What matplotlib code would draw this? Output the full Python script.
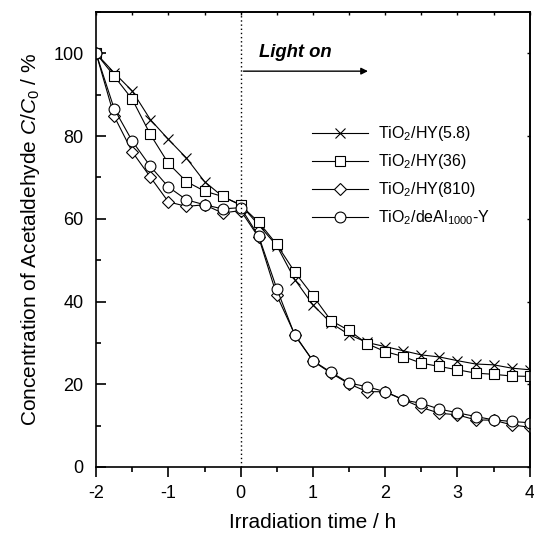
import matplotlib.pyplot as plt
from matplotlib.ticker import MultipleLocator

plt.rcParams['font.family'] = 'Liberation Sans'
plt.rcParams['mathtext.fontset'] = 'custom'
plt.rcParams['mathtext.rm'] = 'Liberation Sans'
plt.rcParams['mathtext.it'] = 'Liberation Sans:italic'
plt.rcParams['axes.unicode_minus'] = False

# time points (h), every 0.25 h from -2 to 4
time = [-2.0, -1.75, -1.5, -1.25, -1.0, -0.75, -0.5, -0.25, 0.0,
        0.25, 0.5, 0.75, 1.0, 1.25, 1.5, 1.75, 2.0, 2.25, 2.5, 2.75,
        3.0, 3.25, 3.5, 3.75, 4.0]

hy58 = [100, 95.3, 90.9, 84.0, 79.2, 74.7, 69.0, 65.4, 63.4,
        58.5, 53.5, 45.3, 39.2, 34.8, 32.0, 30.1, 29.1, 28.1, 27.1, 26.6,
        25.7, 24.9, 24.7, 23.9, 23.5]
hy36 = [100, 94.5, 88.9, 80.4, 73.4, 69.0, 66.7, 65.4, 63.3,
        59.2, 53.8, 47.1, 41.4, 35.4, 33.0, 29.8, 27.9, 26.7, 25.1, 24.3,
        23.5, 22.7, 22.4, 22.0, 21.9]
hy810 = [100, 84.8, 76.2, 70.1, 64.1, 63.0, 63.4, 61.4, 62.0,
         55.5, 41.5, 32.0, 25.6, 22.7, 20.1, 18.2, 18.2, 16.3, 14.4, 13.0,
         12.6, 11.4, 11.3, 10.2, 9.6]
deal = [100, 86.6, 78.8, 72.7, 67.7, 64.6, 63.4, 62.4, 62.7,
        55.8, 43.1, 31.8, 25.7, 22.9, 20.3, 19.4, 18.2, 16.2, 15.4, 14.0,
        13.1, 12.2, 11.4, 11.0, 10.7]

series = [
    (hy58, 'x', 7.5, r'TiO$_2$/HY(5.8)'),
    (hy36, 's', 6.8, r'TiO$_2$/HY(36)'),
    (hy810, 'D', 6.2, r'TiO$_2$/HY(810)'),
    (deal, 'o', 7.8, r'TiO$_2$/deAl$_{\it{1000}}$-Y'),
]

fig = plt.figure(figsize=(5.34, 5.34), dpi=100)
ax = fig.add_axes([0.18, 0.1255, 0.812, 0.852])

for y, m, ms, lab in series:
    ax.plot(time, y, color='black', lw=0.8, marker=m, markersize=ms,
            markerfacecolor='white', markeredgecolor='black',
            markeredgewidth=0.8, label=lab)

ax.axvline(0, color='black', lw=1, ls=(0, (1, 2)))
ax.annotate('', xy=(1.8, 95.7), xytext=(0, 95.7),
            arrowprops=dict(arrowstyle='-|>', color='black', lw=1,
                            mutation_scale=10))
ax.text(0.25, 100.2, 'Light on', fontsize=13.3, fontweight='bold',
        fontstyle='italic', va='center', ha='left')

ax.set_xlim(-2, 4)
ax.set_ylim(0, 110)
ax.xaxis.set_major_locator(MultipleLocator(1))
ax.xaxis.set_minor_locator(MultipleLocator(0.5))
ax.yaxis.set_minor_locator(MultipleLocator(10))
ax.set_yticks([0, 20, 40, 60, 80, 100])
for s in ax.spines.values():
    s.set_linewidth(1.2)
ax.tick_params(which='both', labelsize=13, width=1.2)
ax.tick_params(axis='x', which='both', direction='out', pad=6)
ax.tick_params(axis='y', which='both', direction='in', pad=9)
ax.tick_params(which='major', length=7)
ax.tick_params(which='minor', length=3.5)

# tiny ticks on top and right
top = ax.secondary_xaxis('top')
top.xaxis.set_major_locator(MultipleLocator(0.5))
top.tick_params(direction='in', length=2, width=1, labelbottom=False,
                labeltop=False)
right = ax.secondary_yaxis('right')
right.yaxis.set_major_locator(MultipleLocator(20))
right.tick_params(direction='in', length=2, width=1, labelright=False)
top.spines['top'].set_linewidth(1.2)
right.spines['right'].set_linewidth(1.2)

ax.set_xlabel('Irradiation time / h', fontsize=15, labelpad=8)
ax.set_ylabel(r'Concentration of Acetaldehyde $\it{C}/\it{C}_0$ / %',
              fontsize=15, labelpad=8)

ax.legend(loc='upper left', bbox_to_anchor=(0.465, 0.785), frameon=False,
          fontsize=11.5, handlelength=3.5, labelspacing=0.57, handletextpad=0.6)

fig.savefig('out.png', dpi=100)
